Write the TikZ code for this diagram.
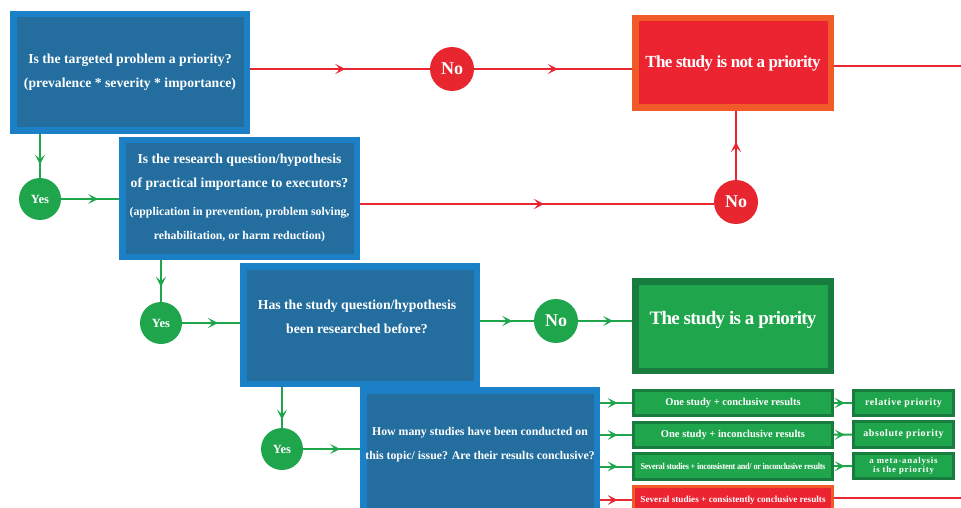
\documentclass[tikz,border=0pt]{standalone}
\usepackage{fontspec}
\setmainfont{Liberation Serif}
\newfontfamily\tightfont[LetterSpace=-4]{Liberation Serif}
\newfontfamily\spacedfont[LetterSpace=6]{Liberation Serif}
\newfontfamily\widefont[LetterSpace=9]{Liberation Serif}
\usetikzlibrary{arrows.meta,decorations.markings}
\definecolor{blueO}{HTML}{1B80C5}
\definecolor{blueI}{HTML}{236E9F}
\definecolor{redF}{HTML}{EC2330}
\definecolor{orangeB}{HTML}{F15A29}
\definecolor{greenF}{HTML}{1FA64C}
\definecolor{greenD}{HTML}{177C3D}
\definecolor{lineR}{HTML}{E82630}
\definecolor{lineG}{HTML}{1FA54C}
\tikzset{
  qbox/.style={draw=blueO, fill=blueI, line width=6.5pt, outer sep=3.25pt, inner sep=0pt,
    text=white, align=center, font=\bfseries\fontsize{13.7}{24}\selectfont},
  redbox/.style={draw=orangeB, fill=redF, line width=6.5pt, outer sep=3.25pt, inner sep=0pt,
    text=white, align=center},
  greenbox/.style={draw=greenD, fill=greenF, line width=6.5pt, outer sep=3.25pt, inner sep=0pt,
    text=white, align=center},
  resbox/.style={draw=greenD, fill=greenF, line width=3.3pt, outer sep=1.65pt, inner sep=0pt,
    text=white, align=center, minimum width=198.7pt},
  rightbox/.style={draw=greenD, fill=greenF, line width=3.3pt, outer sep=1.65pt, inner sep=0pt,
    text=white, align=center, minimum width=99.7pt},
  nocirc/.style={circle, fill=lineR, text=white, inner sep=0pt, minimum size=44pt,
    font=\bfseries\fontsize{18}{18}\selectfont},
  nogcirc/.style={circle, fill=lineG, text=white, inner sep=0pt, minimum size=44pt,
    font=\bfseries\fontsize{18}{18}\selectfont},
  yescirc/.style={circle, fill=lineG, text=white, inner sep=0pt, minimum size=42pt,
    font=\bfseries\fontsize{12.5}{12.5}\selectfont},
  rline/.style={draw=lineR, line width=2pt},
  gline/.style={draw=lineG, line width=2pt},
  midarr/.style={postaction={decorate}, decoration={markings,
    mark=at position #1 with {\arrow{Stealth[length=10pt,width=10pt,inset=4.5pt]}}}},
}
\begin{document}
\begin{tikzpicture}[x=1pt,y=-1pt]
\useasboundingbox (0,0) rectangle (961,508);
\clip (0,0) rectangle (961,508);
\fill[white] (0,0) rectangle (961,508);

% question boxes
\node[qbox, minimum width=233.5pt, minimum height=116.5pt] (b1) at (130,72.5)
  {Is the targeted problem a priority?\\(prevalence * severity * importance)};
\node[qbox, minimum width=234.5pt, minimum height=116.5pt] (b2) at (239.5,198.5)
  {Is the research question/hypothesis\\of practical importance to executors?\\[4pt]
   {\fontsize{11.8}{24}\selectfont (application in prevention, problem solving,}\\
   {\fontsize{11.8}{24}\selectfont rehabilitation, or harm reduction)}};
\node[qbox, minimum width=233.5pt, minimum height=117.5pt] (b3) at (360,325) {};
\node[text=white, align=center, font=\bfseries\fontsize{13.7}{24}\selectfont] (b3t) at (357,317)
  {Has the study question/hypothesis\\been researched before?};
\node[qbox, minimum width=233.5pt, minimum height=143.5pt] (b4) at (480,462) {};
\node[text=white, align=center, font=\bfseries\fontsize{11.8}{24}\selectfont] (b4t) at (480,445)
  {How many studies have been conducted on\\this topic/ issue? Are their results conclusive?};

% outcome boxes
\node[redbox, minimum width=195.5pt, minimum height=89.5pt] (np) at (733,63)
  {\tightfont\bfseries\fontsize{17}{17}\selectfont The study is not a priority};
\node[greenbox, minimum width=195.5pt, minimum height=89.5pt] (pr) at (733,326) {};
\node[text=white, font=\tightfont\bfseries\fontsize{19}{19}\selectfont] (prt) at (733,320)
  {The study is a priority};

% result boxes
\node[resbox, minimum height=24.7pt, font=\bfseries\fontsize{10.5}{10.5}\selectfont] (r1) at (733,403)
  {One study + conclusive results};
\node[resbox, minimum height=24.7pt, font=\bfseries\fontsize{10.5}{10.5}\selectfont] (r2) at (733,435)
  {One study + inconclusive results};
\node[resbox, minimum height=25.7pt] (r3) at (733,466.5)
  {\scalebox{0.92}[1]{\tightfont\bfseries\fontsize{9}{9}\selectfont Several studies + inconsistent and/ or inconclusive results}};
\node[draw=orangeB, fill=redF, line width=3.3pt, outer sep=1.65pt, inner sep=0pt, text=white,
  minimum width=198.7pt, minimum height=26.7pt, font=\bfseries\fontsize{9.2}{9.2}\selectfont] (r4) at (733,500)
  {Several studies + consistently conclusive results};

\node[rightbox, minimum height=24.7pt, font=\spacedfont\bfseries\fontsize{10}{10}\selectfont] (p1) at (903.5,403)
  {relative priority};
\node[rightbox, minimum height=25.7pt, font=\spacedfont\bfseries\fontsize{10}{10}\selectfont] (p2) at (903.5,434.5)
  {absolute priority};
\node[rightbox, minimum height=24.7pt, font=\widefont\bfseries\fontsize{8.8}{9.5}\selectfont] (p3) at (903.5,466)
  {a meta-analysis\\is the priority};

% circles
\node[nocirc] (no1) at (452,69) {No};
\node[nocirc] (no2) at (736,202) {No};
\node[nogcirc] (no3) at (556,321) {No};
\node[yescirc] (y1) at (40,199) {Yes};
\node[yescirc] (y2) at (161,323) {Yes};
\node[yescirc] (y3) at (282,449) {Yes};

\coordinate (e1) at (961,66);
\coordinate (e2) at (961,498);

% connectors
\draw[rline, midarr=0.53] (b1.east |- no1) -- (no1);
\draw[rline, midarr=0.53] (no1) -- (np.west |- no1);
\draw[rline] (np.east |- e1) -- (e1);
\draw[rline, midarr=0.52] (b2.east |- 0,204) -- (no2.west |- 0,204);
\draw[rline, midarr=0.55] (no2) -- (np.south -| no2);
\draw[rline] (r4.east |- e2) -- (e2);

\draw[gline, midarr=0.7] (b1.south -| y1) -- (y1);
\draw[gline, midarr=0.64] (y1) -- (b2.west |- y1);
\draw[gline, midarr=0.64] (b2.south -| y2) -- (y2);
\draw[gline, midarr=0.62] (y2) -- (b3.west |- y2);
\draw[gline, midarr=0.8] (b3.south -| y3) -- (y3);
\draw[gline, midarr=0.65] (y3) -- (b4.west |- y3);
\draw[gline, midarr=0.6] (b3.east |- no3) -- (no3);
\draw[gline, midarr=0.65] (no3) -- (pr.west |- no3);

\draw[gline, midarr=0.55] (b4.east |- r1) -- (r1);
\draw[gline, midarr=0.55] (b4.east |- r2) -- (r2);
\draw[gline, midarr=0.55] (b4.east |- r3) -- (r3);
\draw[rline, midarr=0.55] (b4.east |- r4) -- (r4);

\draw[gline, midarr=0.6] (r1) -- (p1);
\draw[gline, midarr=0.6] (r2) -- (p2);
\draw[gline, midarr=0.6] (r3) -- (p3);
\end{tikzpicture}
\end{document}
